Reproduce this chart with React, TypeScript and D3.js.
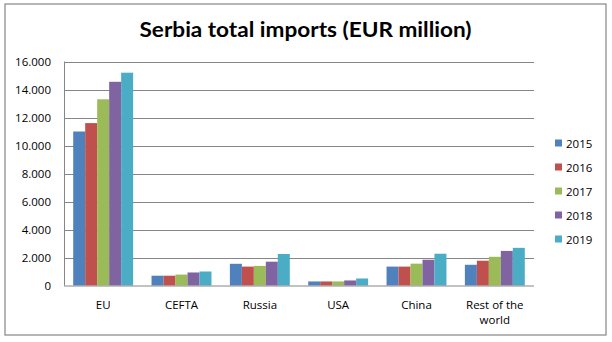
import React from "react";
import * as d3 from "d3";

const categories = ["EU", "CEFTA", "Russia", "USA", "China", "Rest of the world"];
const years = ["2015", "2016", "2017", "2018", "2019"];
const colors = ["#4F81BD", "#C0504D", "#9BBB59", "#8064A2", "#4BACC6"];
const values2015 = [11000, 700, 1550, 290, 1350, 1480];
const values2016 = [11600, 700, 1350, 290, 1350, 1770];
const values2017 = [13300, 780, 1400, 290, 1560, 2050];
const values2018 = [14550, 930, 1700, 360, 1840, 2470];
const values2019 = [15200, 1000, 2250, 500, 2270, 2690];
const series = [values2015, values2016, values2017, values2018, values2019];
const yTicks = [0, 2000, 4000, 6000, 8000, 10000, 12000, 14000, 16000];

const W = 612, H = 342;
const L = 64, R = 534, T = 61.5, B = 285.5;

export default function App() {
  const x0 = d3.scaleBand<string>().domain(categories).range([L, R]).paddingInner(0.235).paddingOuter(0.1175);
  const x1 = d3.scaleBand<string>().domain(years).range([0, x0.bandwidth()]);
  const y = d3.scaleLinear().domain([0, 16000]).range([B, T]);
  const fmt = (v: number) => d3.format(",")(v).replace(/,/g, ".");
  const font = "'Open Sans', sans-serif";
  return (
    <svg width={W} height={H} style={{ position: "absolute", left: 0, top: 0 }} fontFamily={font}>
      <rect x={0} y={0} width={W} height={H} fill="#fff" />
      <rect x={5} y={4} width={601} height={331} fill="#fff" stroke="#868686" strokeWidth={1.2} />
      <text x={305.5} y={36.7} textAnchor="middle" fontSize={21} fontWeight="bold" fill="#000"
        fontFamily="Lato, sans-serif" textLength={332} lengthAdjust="spacingAndGlyphs">
        Serbia total imports (EUR million)
      </text>
      {yTicks.map((t) => (
        <g key={t}>
          {t > 0 && <line x1={L} x2={R} y1={Math.round(y(t)) + 0.5} y2={Math.round(y(t)) + 0.5} stroke="#868686" strokeWidth={1} />}
          <text x={51} y={y(t) + 4} textAnchor="end" fontSize={11.5} fill="#000">{fmt(t)}</text>
        </g>
      ))}
      {series.map((vals, si) =>
        categories.map((c, ci) => (
          <rect key={`${si}-${ci}`} x={(x0(c) as number) + (x1(years[si]) as number)} y={y(vals[ci])}
            width={x1.bandwidth()} height={B - y(vals[ci])} fill={colors[si]} />
        ))
      )}
      <line x1={L + 0.5} x2={L + 0.5} y1={T} y2={B} stroke="#868686" />
      <line x1={L} x2={R} y1={B + 0.5} y2={B + 0.5} stroke="#868686" />
      {categories.map((c) => {
        const cx = (x0(c) as number) + x0.bandwidth() / 2;
        const lines = c === "Rest of the world" ? ["Rest of the", "world"] : [c];
        return lines.map((ln, i) => (
          <text key={c + i} x={cx} y={309 + i * 15} textAnchor="middle" fontSize={11.5} fill="#000">{ln}</text>
        ))
      })}
      {years.map((yr, i) => (
        <g key={yr}>
          <rect x={555} y={139.5 + i * 24} width={7} height={7} fill={colors[i]} />
          <text x={566} y={147.5 + i * 24} fontSize={11.5} fill="#000">{yr}</text>
        </g>
      ))}
    </svg>
  );
}
